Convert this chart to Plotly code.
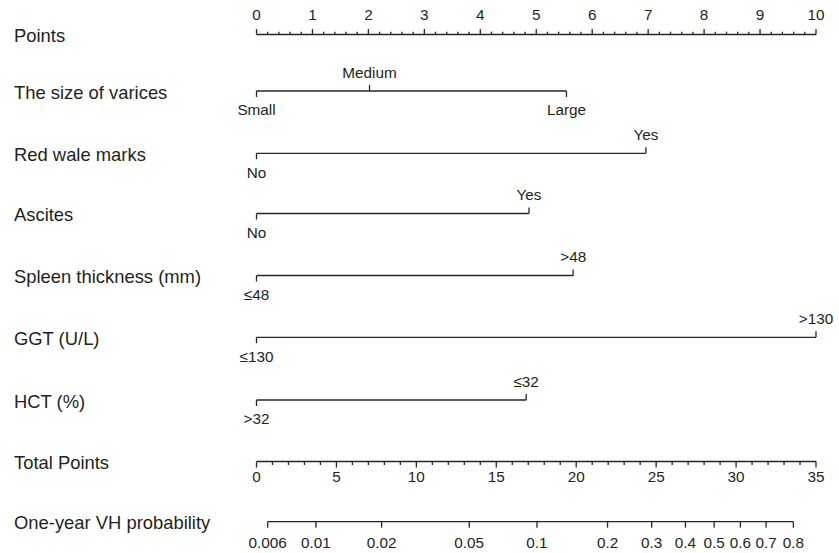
import math
import plotly.graph_objects as go

# ---------------- data ----------------
row_labels = ["Points", "The size of varices", "Red wale marks", "Ascites",
              "Spleen thickness (mm)", "GGT (U/L)", "HCT (%)",
              "Total Points", "One-year VH probability"]

size_levels = ["Small", "Medium", "Large"]
size_points = [0, 2.02, 5.54]
redwale_levels = ["No", "Yes"]
redwale_points = [0, 6.96]
ascites_levels = ["No", "Yes"]
ascites_points = [0, 4.87]
spleen_levels = ["≤48", ">48"]
spleen_points = [0, 5.66]
ggt_levels = ["≤130", ">130"]
ggt_points = [0, 10]
hct_levels = [">32", "≤32"]
hct_points = [0, 4.82]

points_ticks = list(range(0, 11))
total_ticks = list(range(0, 36, 5))
total_max = 35
prob_ticks = [0.006, 0.01, 0.02, 0.05, 0.1, 0.2, 0.3, 0.4, 0.5, 0.6, 0.7, 0.8]
prob_labels = ["0.006", "0.01", "0.02", "0.05", "0.1", "0.2", "0.3", "0.4",
               "0.5", "0.6", "0.7", "0.8"]
# one-year probability model: p = 1 - exp(-exp(lp0 + slope * total points))
lp0 = -5.232
lp_slope = 0.16995

# ---------------- layout constants ----------------
W, H = 839, 553
X0_PX, X10_PX = 256.5, 816.0
ppu = (X10_PX - X0_PX) / 10.0
xr = [-X0_PX / ppu, (W - X0_PX) / ppu]
row_y = [34.5, 91, 153.3, 213.5, 275.5, 337.3, 400, 461.5, 521.7]
LINE = "#2a2425"
TXT = "#231f20"
FONT = "Arial, Liberation Sans, Helvetica, sans-serif"
MAJ, MIN = 5.5, 2.8
ABOVE, BELOW = 17.0, 20.5

fig = go.Figure()
lx, ly = [], []
tx, ty, tt = [], [], []


def seg(x0, y0, x1, y1):
    lx.extend([x0, x1, None])
    ly.extend([y0, y1, None])


# Points axis (ticks up, labels above)
y = row_y[0]
seg(0, y, 10, y)
for i in range(0, 51):
    v = i * 0.2
    seg(v, y, v, y - (MAJ if i % 5 == 0 else MIN))
for v in points_ticks:
    tx.append(v); ty.append(y - 18.3); tt.append(str(v))

# variable rows
variables = [(size_levels, size_points), (redwale_levels, redwale_points),
             (ascites_levels, ascites_points), (spleen_levels, spleen_points),
             (ggt_levels, ggt_points), (hct_levels, hct_points)]
for r, (levs, pts) in enumerate(variables, start=1):
    y = row_y[r]
    seg(min(pts), y, max(pts), y)
    for i, (lab, p) in enumerate(zip(levs, pts)):
        if i % 2 == 0:
            seg(p, y, p, y + 6)
            tx.append(p); ty.append(y + BELOW); tt.append(lab)
        else:
            seg(p, y, p, y - 6)
            tx.append(p); ty.append(y - ABOVE); tt.append(lab)

# Total points axis (ticks down, labels below)
y = row_y[7]
k = 10.0 / total_max
seg(0, y, total_max * k, y)
for v in range(0, total_max + 1):
    seg(v * k, y, v * k, y + (6 if v % 5 == 0 else 3.5))
for v in total_ticks:
    tx.append(v * k); ty.append(y + 17); tt.append(str(v))

# probability axis
y = row_y[8]
pos = [(math.log(-math.log(1 - p)) - lp0) / lp_slope * k for p in prob_ticks]
seg(pos[0], y, pos[-1], y)
for p, lab in zip(pos, prob_labels):
    seg(p, y, p, y + 6)
    tx.append(p); ty.append(y + 22); tt.append(lab)

fig.add_trace(go.Scatter(x=lx, y=ly, mode="lines",
                         line=dict(color=LINE, width=1.3),
                         hoverinfo="skip", showlegend=False))
fig.add_trace(go.Scatter(x=tx, y=ty, mode="text", text=tt,
                         textposition="middle center",
                         textfont=dict(family=FONT, size=15.3, color=TXT),
                         hoverinfo="skip", showlegend=False))

for lab, y in zip(row_labels, row_y):
    fig.add_annotation(x=12 / W, xref="paper", y=y + 1.2, yref="y",
                       text=lab, showarrow=False, xanchor="left",
                       yanchor="middle",
                       font=dict(family=FONT, size=18.4, color=TXT))

fig.update_layout(width=W, height=H, margin=dict(l=0, r=0, t=0, b=0),
                  paper_bgcolor="white", plot_bgcolor="white",
                  xaxis=dict(range=xr, visible=False, fixedrange=True),
                  yaxis=dict(range=[H, 0], visible=False, fixedrange=True))
fig.write_html("out.html", config={"displayModeBar": False},
               post_script="document.body.style.margin='0';"
                           "document.body.style.padding='0';"
                           "document.body.style.overflow='hidden';")
